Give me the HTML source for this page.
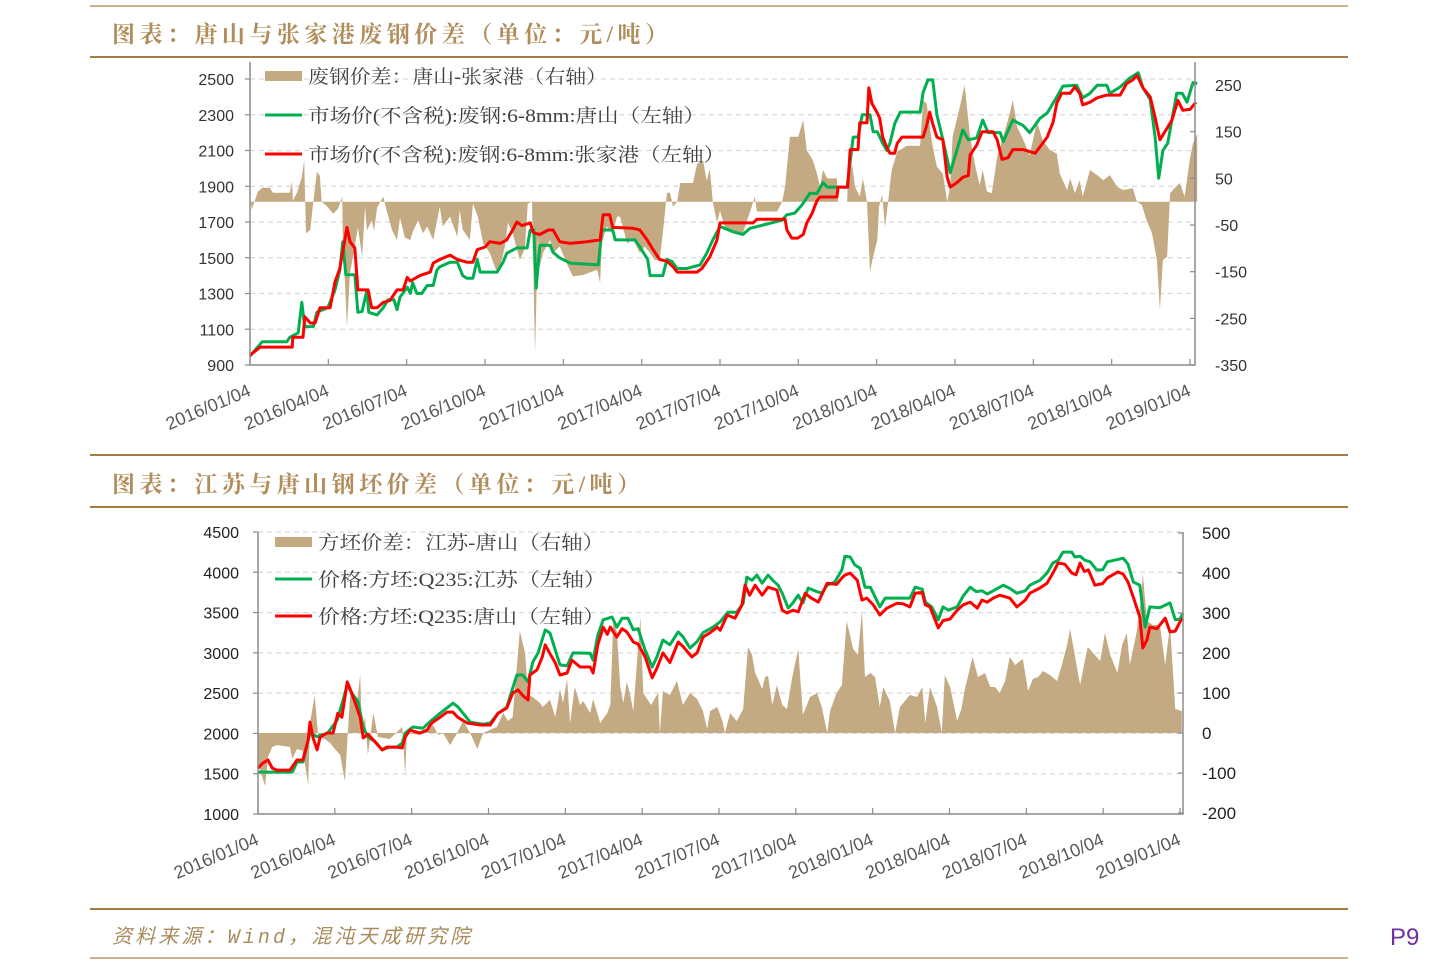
<!DOCTYPE html>
<html><head><meta charset="utf-8">
<style>
html,body{margin:0;padding:0;background:#fff;}
body{width:1440px;height:968px;overflow:hidden;position:relative;font-family:"Liberation Sans","Noto Sans CJK SC",sans-serif;}
svg{position:absolute;left:0;top:0;}
</style></head>
<body>
<svg id="page" width="1440" height="968" viewBox="0 0 1440 968" xmlns="http://www.w3.org/2000/svg">
  <line x1="90" y1="6" x2="1348" y2="6" stroke="#c9b38d" stroke-width="2"/>
  <text x="112" y="42" font-family="'Liberation Serif','Noto Serif CJK SC',serif" font-size="23" font-weight="bold" fill="#b08d5a" textLength="556" lengthAdjust="spacing">图表：唐山与张家港废钢价差（单位：元/吨）</text>
  <line x1="90" y1="57" x2="1348" y2="57" stroke="#a87a48" stroke-width="2"/>
  <line x1="90" y1="455" x2="1348" y2="455" stroke="#a87a48" stroke-width="2"/>
  <text x="112" y="492" font-family="'Liberation Serif','Noto Serif CJK SC',serif" font-size="23" font-weight="bold" fill="#b08d5a" textLength="528" lengthAdjust="spacing">图表：江苏与唐山钢坯价差（单位：元/吨）</text>
  <line x1="90" y1="507" x2="1348" y2="507" stroke="#a87a48" stroke-width="2"/>
  <line x1="90" y1="909" x2="1348" y2="909" stroke="#a87a48" stroke-width="2"/>
  <text x="112" y="943" font-family="'Liberation Mono','Noto Sans CJK SC',monospace" font-style="italic" font-size="20" fill="#a88c5e" textLength="358" lengthAdjust="spacing">资料来源：Wind，混沌天成研究院</text>
  <line x1="90" y1="958" x2="1348" y2="958" stroke="#c9b38d" stroke-width="2"/>
  <text x="1390" y="945" font-size="24" fill="#7030a0">P9</text>
  <g id="c1"></g>
  <g id="c2"></g>
</svg>
<script>
// ===== Chart 1 data (week offsets from 2016/01/04) =====
const c1DateLabels = ["2016/01/04","2016/04/04","2016/07/04","2016/10/04","2017/01/04","2017/04/04","2017/07/04","2017/10/04","2018/01/04","2018/04/04","2018/07/04","2018/10/04","2019/01/04"];
const c1LeftTicks = [900,1100,1300,1500,1700,1900,2100,2300,2500];
const c1RightTicks = [-350,-250,-150,-50,50,150,250];
const c1TsWeek = [0,2,6.1,6.6,8,8.6,9.1,10.5,11.1,12.9,14.1,14.9,15.4,15.9,17.4,17.9,18.6,19.4,19.7,21.1,22.1,22.9,23.9,24.4,24.9,26.1,26.6,27,27.7,28.5,29.4,30.4,31,31.5,33.2,34.4,35.3,36,37,37.7,38.2,41,42,42.6,44.3,46,46.5,47.1,47.5,48.1,49.8,50.3,51.4,53.1,57.8,58.4,60.2,60.6,63.9,64.7,66,66.4,68.5,69.2,70,70.9,72.5,74.7,75.8,76.8,78,80.2,81.8,83,88.3,89.1,90.4,91.6,92.9,94.1,95.1,95.8,99.1,100.1,100.9,101.6,102.9,103.4,104.1,105,105.7,106.2,107,107.9,111.2,111.7,112.5,113.3,114,115,116.2,117.3,118.3,119.2,120.6,121.6,122.5,124.5,125,126.6,128.3,129.4,131.1,132.3,133.9,134.9,137.2,138.2,139.4,140.6,142.2,142.7,144.4,146,147.4,148.2,149.4,150.2,150.8,151.5,152.3,153,153.8,154.7,155.5,156.5,157.2];
const c1TsPrice = [950,1030,1030,1055,1080,1250,1115,1115,1195,1220,1320,1430,1590,1405,1405,1195,1200,1320,1195,1180,1220,1265,1265,1210,1280,1335,1300,1360,1300,1300,1345,1345,1430,1450,1475,1475,1400,1385,1385,1490,1420,1420,1475,1525,1555,1555,1655,1655,1330,1570,1570,1530,1500,1470,1460,1655,1655,1600,1600,1560,1490,1400,1400,1490,1480,1440,1440,1460,1525,1600,1675,1645,1630,1665,1710,1740,1750,1795,1860,1860,1920,1895,1895,2175,2175,2300,2300,2205,2205,2140,2100,2140,2250,2315,2315,2425,2495,2495,2300,2160,1975,2100,2215,2160,2170,2270,2200,2200,2150,2270,2240,2200,2280,2310,2400,2460,2465,2395,2420,2465,2465,2420,2455,2505,2535,2450,2385,2175,1945,2100,2140,2270,2420,2420,2370,2480,2475];
const c1ZjgWeek = [0,1.7,7.0,7.1,8.8,9.1,10.0,10.8,11.6,13.3,14.1,14.9,16.1,16.6,17.4,17.9,19.6,20.2,21.1,22.1,23.2,24.4,25.4,26.1,26.6,28.2,29.9,30.4,31.5,33.2,34.4,36.0,37.0,37.7,39.0,39.8,41.5,42.6,43.5,44.3,45.1,46.5,47.0,48.1,49.5,50.3,51.4,53.1,55.9,58.1,58.6,59.7,60.2,63.6,64.7,65.9,66.9,68.0,69.2,70.2,70.9,74.2,75.0,76.3,77.5,78.0,83.5,84.1,88.8,89.1,89.9,90.9,91.8,92.4,93.3,94.1,94.6,97.4,97.6,99.2,99.6,100.9,101.2,102.4,102.7,103.2,104.1,104.5,105.0,105.7,106.2,107.0,107.4,108.2,111.7,112.3,112.8,113.3,114.0,115.0,115.7,116.2,117.3,118.3,119.2,119.5,120.6,121.5,123.3,124.0,124.8,125.8,126.6,128.3,130.3,131.1,132.3,133.3,133.9,134.7,136.1,136.9,137.7,138.2,139.4,140.6,142.2,144.4,145.5,146.5,147.2,148.2,149.4,150.2,151.0,152.2,153.0,154.0,154.8,156.0,157.0];
const c1ZjgPrice = [955,1000,1000,1055,1055,1170,1135,1135,1220,1220,1365,1440,1670,1590,1555,1320,1320,1220,1220,1250,1260,1320,1320,1390,1370,1400,1420,1470,1490,1515,1490,1475,1475,1545,1560,1590,1580,1600,1650,1700,1680,1695,1640,1630,1655,1655,1590,1580,1590,1600,1740,1740,1670,1665,1655,1600,1545,1490,1480,1450,1420,1420,1440,1505,1600,1695,1695,1715,1715,1655,1610,1610,1630,1695,1750,1820,1840,1840,1895,1895,2105,2105,2255,2255,2450,2365,2310,2280,2175,2115,2085,2085,2140,2175,2175,2240,2315,2250,2175,2160,1950,1895,1920,1950,1960,2075,2130,2205,2205,2160,2050,2060,2105,2105,2085,2120,2175,2260,2365,2420,2420,2455,2420,2355,2370,2395,2410,2410,2475,2495,2520,2450,2400,2285,2160,2225,2270,2380,2325,2330,2370];
const c1SpreadWeek = [0,0.3,1.3,2.0,3.3,3.8,6.6,7.0,7.1,7.8,8.6,9.0,9.3,10.0,10.5,11.1,11.6,11.9,12.8,13.8,14.6,15.3,15.4,16.1,16.6,17.4,17.9,18.6,19.1,19.4,20.2,20.6,21.1,22.1,22.6,23.6,24.4,24.9,25.7,26.6,27.0,27.9,28.7,29.4,30.4,31.5,32.0,33.2,34.4,34.8,35.3,36.5,37.0,37.8,38.7,39.8,41.0,41.5,42.3,42.8,43.6,44.8,45.6,46.1,46.8,47.3,47.8,48.1,48.6,49.8,50.3,51.4,52.8,53.6,55.3,57.6,58.1,58.4,59.2,60.2,60.9,61.4,62.6,63.6,64.7,65.5,66.4,67.2,68.0,68.5,69.2,69.7,70.2,70.9,71.4,73.5,74.2,75.2,75.8,76.3,76.8,77.5,78.0,78.8,80.8,81.8,83.0,83.8,84.1,87.5,88.3,88.8,89.6,91.0,91.8,92.4,92.9,93.4,94.1,94.6,95.1,95.8,97.4,97.6,99.1,99.2,99.9,100.4,101.2,101.7,102.4,102.9,103.4,104.1,104.4,104.9,105.4,105.9,106.5,107.4,109.0,111.2,111.7,112.3,113.2,114.0,115.0,115.7,116.2,116.6,117.8,118.6,119.5,120.3,121.1,121.6,122.3,123.1,124.0,125.0,126.1,126.6,127.3,128.1,129.4,130.6,131.6,132.8,133.9,134.4,135.6,136.1,136.9,137.7,138.2,139.4,140.6,141.6,142.7,143.9,144.9,146.5,147.2,148.0,148.8,149.7,150.5,151.0,151.5,152.2,152.7,153.5,154.3,155.1,156.0,156.5,157.2];
const c1SpreadValue = [10,-17,21,30,30,19,19,43,2,19,53,89,-68,-60,0,64,55,0,-10,-26,-15,11,-75,-268,-153,-96,-55,-118,-11,-62,-40,-62,-13,11,-15,-62,-82,-35,-77,-82,-65,-40,-68,-53,-82,-11,-53,-32,-75,-18,-60,-82,-4,-32,-89,-110,-153,-139,-96,-45,-68,-125,-100,-4,0,-325,-75,-139,-110,-82,-110,-96,-139,-160,-157,-146,-174,-89,-53,-68,-32,-32,-89,-82,-110,-96,-110,-125,-125,-68,19,19,-11,0,40,40,81,88,45,70,0,-45,-20,-54,-68,-68,-21,11,-21,-21,0,32,139,139,175,110,100,89,60,32,68,50,50,0,0,32,82,32,11,50,0,-150,-118,-82,-10,15,-54,0,68,107,120,120,218,210,125,75,60,0,32,139,203,250,139,80,35,68,22,18,96,139,189,218,160,139,100,171,130,110,103,60,25,50,18,46,11,68,57,46,57,32,25,29,0,-7,-40,-68,-125,-232,-125,-118,18,30,40,11,93,125,145];

// ===== Chart 2 data =====
const c2DateLabels = ["2016/01/04","2016/04/04","2016/07/04","2016/10/04","2017/01/04","2017/04/04","2017/07/04","2017/10/04","2018/01/04","2018/04/04","2018/07/04","2018/10/04","2019/01/04"];
const c2LeftTicks = [1000,1500,2000,2500,3000,3500,4000,4500];
const c2RightTicks = [-200,-100,0,100,200,300,400,500];
const c2JsWeek = [0,2.0,5.8,6.6,7.6,8.8,10.0,11.8,13.4,14.4,15.1,16.1,16.9,17.8,18.6,19.8,21.0,22.3,23.5,24.4,24.9,26.2,27.9,29.4,30.8,33.0,33.8,34.7,35.9,38.1,39.3,40.6,42.1,42.6,43.8,44.8,45.7,46.5,47.4,48.6,49.4,50.3,51.1,52.3,53.3,56.2,56.7,57.5,58.4,59.9,60.7,61.6,62.6,63.5,64.3,65.5,66.7,67.5,68.5,69.7,71.1,71.9,73.1,74.3,75.3,77.0,78.2,79.5,81.0,82.1,82.7,83.6,84.4,85.3,86.3,87.1,88.0,88.7,89.7,90.5,91.4,92.2,93.1,94.2,95.4,96.3,97.6,98.8,99.3,100.2,101.0,101.9,102.7,103.6,104.1,105.2,106.1,110.3,111.2,112.4,112.9,114.0,115.1,115.9,116.8,118.3,119.3,120.5,121.5,122.5,123.4,124.4,126.1,127.2,128.4,129.8,130.6,132.3,133.5,134.5,135.4,136.2,137.7,138.2,139.1,139.9,140.8,141.9,142.9,143.7,146.4,147.2,148.1,149.2,150.1,150.9,152.6,154.3,155.2,156.0,156.5];
const c2JsPrice = [1520,1520,1520,1645,1645,2005,1960,2005,2165,2415,2600,2475,2400,2080,1955,1900,1795,1830,1830,1880,2005,2080,2065,2165,2250,2375,2330,2250,2140,2115,2130,2250,2325,2450,2725,2725,2640,2885,3000,3285,3245,3035,2850,2840,3000,2995,2910,3220,3410,3445,3320,3430,3430,3285,3300,3035,2825,2950,3160,3100,3260,3200,3060,3140,3250,3320,3385,3505,3505,3615,3940,3900,3965,3865,3965,3900,3840,3740,3555,3620,3715,3620,3805,3770,3740,3840,3880,4030,4200,4190,4090,4050,3815,3815,3740,3570,3680,3680,3815,3790,3630,3570,3410,3570,3530,3570,3705,3815,3760,3770,3730,3770,3840,3800,3740,3770,3840,3900,3990,4115,4150,4250,4250,4190,4200,4150,4130,4030,4030,4130,4175,4100,3880,3840,3320,3570,3560,3620,3410,3420,3495];
const c2TsWeek = [0,0.8,1.7,2.4,3.2,5.4,6.6,7.6,8.5,8.8,9.3,10.0,10.5,11.7,12.7,13.5,14.2,15.1,15.6,16.4,17.3,17.8,18.6,19.5,21.0,21.8,23.5,24.4,24.9,25.7,27.4,28.6,29.4,30.8,32.0,33.0,33.8,35.4,37.6,39.3,40.6,42.1,43.1,44.0,44.8,45.7,46.0,47.2,48.1,48.6,49.4,50.3,51.1,52.3,53.1,54.5,56.2,56.7,57.5,58.4,59.1,59.6,60.7,61.6,62.4,63.5,64.3,65.5,66.7,67.5,68.5,69.7,71.1,71.9,73.4,74.3,75.3,76.5,77.7,78.2,79.4,80.7,81.9,82.4,83.2,84.1,85.3,86.3,87.8,88.7,89.5,90.5,91.4,92.6,93.4,94.8,96.3,97.9,98.8,99.3,100.2,101.4,102.2,103.0,104.1,105.2,106.4,108.1,109.1,110.3,111.2,112.4,112.9,113.7,115.1,115.9,117.1,118.3,119.3,120.5,121.7,122.5,123.4,124.4,125.5,127.2,128.4,129.8,130.6,132.3,133.5,134.5,135.4,136.5,137.7,138.4,139.1,139.8,140.5,141.6,142.9,143.7,145.5,146.4,147.2,148.1,149.2,149.7,150.4,150.9,152.1,153.5,154.3,155.2,156.0,156.5];
const c2TsPrice = [1570,1630,1670,1570,1545,1545,1670,1670,1920,2140,1950,1795,1955,2005,2005,2250,2200,2640,2550,2390,2200,1945,1990,1920,1795,1830,1830,1820,1955,2040,2005,2040,2130,2200,2265,2265,2200,2130,2105,2105,2250,2315,2500,2540,2470,2415,2725,2790,2950,3100,2990,2875,2725,2750,2910,2825,2825,2750,3100,3320,3230,3320,3195,3300,3260,3135,3110,2950,2690,2810,3000,2880,3135,3080,2950,3000,3195,3250,3320,3280,3470,3430,3595,3840,3715,3840,3715,3815,3780,3530,3495,3530,3510,3740,3690,3630,3865,3850,3930,3965,3990,3900,3655,3680,3595,3470,3555,3615,3610,3570,3740,3750,3595,3570,3310,3400,3420,3530,3595,3630,3555,3655,3630,3680,3715,3680,3570,3655,3740,3805,3865,3990,4115,4100,3990,3970,4115,4010,4030,3840,3860,3930,4005,3975,3880,3690,3445,3060,3160,3320,3300,3430,3260,3270,3385,3430];
const c2SpreadWeek = [0,0.1,1.2,1.7,2.4,3.2,5.4,5.8,6.6,7.6,8.5,8.8,9.6,10.2,11.3,12.2,13.0,13.9,14.7,15.6,16.8,17.3,17.6,18.1,18.6,19.5,20.3,22.3,24.4,24.6,24.9,25.2,27.4,28.8,29.6,30.5,31.3,32.5,33.7,34.7,35.9,37.1,38.1,39.3,40.4,41.5,42.3,43.1,44.3,45.2,45.7,46.5,47.7,48.2,49.4,50.3,51.1,51.6,52.3,52.8,53.6,54.5,55.0,56.2,56.7,57.9,59.1,59.6,60.1,60.7,61.3,61.8,62.4,62.9,63.5,64.7,65.2,66.5,67.7,68.0,68.5,69.7,70.9,71.9,73.1,74.3,75.3,76.0,76.5,77.7,78.6,79.0,79.9,81.0,82.1,82.9,83.6,84.1,84.6,85.3,85.8,86.3,87.0,87.8,88.7,89.5,90.4,91.4,92.2,93.4,94.6,95.4,96.3,96.8,97.9,98.8,99.6,100.7,101.5,102.2,102.7,103.6,104.4,105.2,105.8,106.9,107.8,108.6,110.3,111.5,112.4,112.9,113.7,114.9,115.7,116.2,117.1,118.3,119.0,119.6,120.9,121.8,123.0,123.9,124.7,125.5,126.4,127.2,128.1,129.4,130.3,131.1,132.0,132.8,134.0,135.2,136.0,136.9,137.4,138.2,139.1,139.9,140.4,141.6,142.5,143.3,144.2,145.4,146.2,147.0,147.5,148.7,149.5,149.7,150.4,151.4,152.6,153.5,154.3,155.2,156.3];
const c2SpreadValue = [0,-80,-133,-60,-35,-30,-35,-64,-40,-45,-130,25,94,-10,-15,-25,-40,-55,-121,99,80,148,0,40,-55,50,-10,-15,15,-30,-104,0,-5,5,20,-5,0,-30,0,30,0,-40,0,8,15,50,30,40,255,200,96,90,75,65,83,40,110,75,135,25,115,70,80,50,85,25,50,70,275,255,115,75,128,100,55,290,100,70,100,0,105,95,130,70,100,85,55,10,55,65,30,0,50,30,60,215,195,150,135,110,140,143,70,120,70,60,140,210,45,90,100,65,0,55,100,120,280,210,195,305,140,150,140,65,115,80,0,65,95,90,115,25,115,65,0,145,115,30,60,110,190,140,150,115,115,100,130,190,170,185,105,135,140,155,145,130,170,220,260,195,120,180,215,195,180,250,195,150,220,250,170,255,350,400,280,270,270,170,270,60,55];

const NS = "http://www.w3.org/2000/svg";
function mk(parent, tag, attrs, text) {
  const el = document.createElementNS(NS, tag);
  for (const k in attrs) el.setAttribute(k, attrs[k]);
  if (text !== undefined) el.textContent = text;
  parent.appendChild(el);
  return el;
}

function drawChart(g, cfg) {
  const xs = w => cfg.x0 + w * (cfg.x1 - cfg.x0) / 156;
  const yl = v => cfg.yBot - (v - cfg.lMin) * (cfg.yBot - cfg.yTop) / (cfg.lMax - cfg.lMin);
  const yr = v => cfg.rZeroY - v * cfg.rPx;
  cfg.leftTicks.forEach(t => {
    if (t === cfg.lMin) return;
    const gl = mk(g, 'line', {x1: cfg.x0, x2: cfg.axR, y1: yl(t), y2: yl(t), stroke: '#d9d9d9', 'stroke-width': 1.2, 'stroke-dasharray': '5,4'});
    
    
  });
  let d = 'M' + xs(cfg.spreadWeek[0]) + ',' + yr(0);
  cfg.spreadWeek.forEach((w, i) => { d += ' L' + xs(w).toFixed(1) + ',' + yr(cfg.spreadValue[i]).toFixed(1); });
  d += ' L' + xs(cfg.spreadWeek[cfg.spreadWeek.length - 1]).toFixed(1) + ',' + yr(0) + ' Z';
  const area = mk(g, 'path', {d: d, fill: '#c4aa82', stroke: 'none'});
  
  
  const line = (weeks, vals, color, name) => {
    let p = '';
    weeks.forEach((w, i) => { p += (i ? ' L' : 'M') + xs(w).toFixed(1) + ',' + yl(vals[i]).toFixed(1); });
    const el = mk(g, 'path', {d: p, fill: 'none', stroke: color, 'stroke-width': 3, 'stroke-linejoin': 'round'});
    
    
  };
  line(cfg.gWeek, cfg.gVal, '#00b050', 'green-price-line');
  line(cfg.rWeek, cfg.rVal, '#ff0000', 'red-price-line');
  const ax = mk(g, 'path', {d: 'M' + cfg.x0 + ',' + cfg.yTopAxis + ' V' + cfg.yBot + ' H' + cfg.axR + ' V' + cfg.yTopAxis, fill: 'none', stroke: '#8c8c8c', 'stroke-width': 1.5});
  
  
  cfg.leftTicks.forEach(t => {
    mk(g, 'line', {x1: cfg.x0 - 5, x2: cfg.x0, y1: yl(t), y2: yl(t), stroke: '#8c8c8c', 'stroke-width': 1.2});
    const tl = mk(g, 'text', {x: cfg.lLabX, y: yl(t) + 6, 'text-anchor': 'end', 'font-size': 16, fill: cfg.labColor}, String(t));
    
    
  });
  cfg.rightTicks.forEach(t => {
    mk(g, 'line', {x1: cfg.axR - 5, x2: cfg.axR, y1: yr(t), y2: yr(t), stroke: '#8c8c8c', 'stroke-width': 1.2});
    const tr = mk(g, 'text', {x: cfg.rLabX, y: yr(t) + 6, 'font-size': cfg.rFont, fill: cfg.labColor}, String(t));
    
    
  });
  cfg.dates.forEach((lab, i) => {
    const x = xs(i * 13);
    mk(g, 'line', {x1: x, x2: x, y1: cfg.yBot - 6, y2: cfg.yBot, stroke: '#8c8c8c', 'stroke-width': 1.2});
    const tx = mk(g, 'text', {x: x + 2, y: cfg.yBot + 30, 'text-anchor': 'end', 'font-size': 18, fill: '#595959', transform: 'rotate(-23 ' + (x + 2) + ' ' + (cfg.yBot + 30) + ')'}, lab);
    
    
  });
  const lf = "'Liberation Serif','Noto Serif CJK SC',serif";
  const lp = mk(g, 'rect', {x: cfg.legX, y: cfg.legY[0] - 5, width: 37, height: 10, fill: '#c4aa82'});
  
  
  [['#00b050', 1], ['#ff0000', 2]].forEach(([c, i]) => {
    mk(g, 'line', {x1: cfg.legX, x2: cfg.legX + 37, y1: cfg.legY[i], y2: cfg.legY[i], stroke: c, 'stroke-width': 3});
  });
  cfg.legText.forEach((t, i) => {
    const lt = mk(g, 'text', {x: cfg.legX + 43, y: cfg.legY[i] + 7, 'font-family': lf, 'font-size': 19, fill: '#404040', textLength: cfg.legLen[i], lengthAdjust: 'spacingAndGlyphs'}, t);
    
    
  });
}

drawChart(document.getElementById('c1'), {
  x0: 250, x1: 1190, axR: 1195, yBot: 365, yTop: 79, yTopAxis: 62, lMin: 900, lMax: 2500,
  rZeroY: 201.7, rPx: 0.4667, leftTicks: c1LeftTicks, rightTicks: c1RightTicks, dates: c1DateLabels,
  lLabX: 234, rLabX: 1215, rFont: 16, labColor: '#333',
  spreadWeek: c1SpreadWeek, spreadValue: c1SpreadValue,
  gWeek: c1TsWeek, gVal: c1TsPrice, rWeek: c1ZjgWeek, rVal: c1ZjgPrice,
  legX: 265, legY: [76, 115, 154], legLen: [299, 397, 417],
  legText: ['废钢价差：唐山-张家港（右轴）', '市场价(不含税):废钢:6-8mm:唐山（左轴）', '市场价(不含税):废钢:6-8mm:张家港（左轴）']
});
drawChart(document.getElementById('c2'), {
  x0: 258, x1: 1180, axR: 1183, yBot: 814, yTop: 532, yTopAxis: 532, lMin: 1000, lMax: 4500,
  rZeroY: 733, rPx: 0.4, leftTicks: c2LeftTicks, rightTicks: c2RightTicks, dates: c2DateLabels,
  lLabX: 239, rLabX: 1202, rFont: 17, labColor: '#222',
  spreadWeek: c2SpreadWeek, spreadValue: c2SpreadValue,
  gWeek: c2JsWeek, gVal: c2JsPrice, rWeek: c2TsWeek, rVal: c2TsPrice,
  legX: 275, legY: [542, 579, 616], legLen: [286, 288, 287],
  legText: ['方坯价差：江苏-唐山（右轴）', '价格:方坯:Q235:江苏（左轴）', '价格:方坯:Q235:唐山（左轴）']
});
</script>
</body></html>
